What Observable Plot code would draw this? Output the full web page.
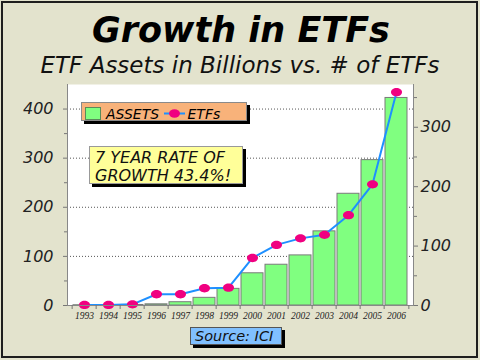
<!DOCTYPE html>
<html>
<head>
<meta charset="utf-8">
<script src="https://cdn.jsdelivr.net/npm/d3@7"></script>
<script src="https://cdn.jsdelivr.net/npm/@observablehq/plot@0.6"></script>
<style>
  html, body { margin: 0; padding: 0; background: #e3e3cd; }
  #root { position: relative; width: 480px; height: 360px; background: #e3e3cd; overflow: hidden; font-family: "DejaVu Sans", Verdana, sans-serif; }
  #root svg { position: absolute; left: 0; top: 0; }
  .abs { position: absolute; white-space: nowrap; line-height: normal; }
  .frame { position: absolute; left: 1px; top: 1px; width: 477px; height: 357px; border: 2px solid #1e1e1e; box-sizing: border-box; pointer-events: none; }
  .box { position: absolute; box-sizing: border-box; box-shadow: 3px 3px 0 #000; }
</style>
</head>
<body>
<div id="root"></div>
<script>
// ---- data ----
const years  = ["1993","1994","1995","1996","1997","1998","1999","2000","2001","2002","2003","2004","2005","2006"];
const assets = [0.5, 0.4, 1.1, 2.4, 6.7, 15.6, 33.9, 65.6, 83, 102, 151, 227.5, 296, 422.6];   // $ billions (left axis)
const etfs   = [1, 1, 2, 19, 19, 29, 30, 80, 102, 113, 119, 152, 204, 359];                      // number of ETFs (right axis)
const leftTicks  = [0, 100, 200, 300, 400];
const leftMinor  = [50, 150, 250, 350];
const rightTicks = [0, 100, 200, 300];
const rightMinor = [50, 150, 250, 350];
const leftMax = 450, rightMax = 372;

const k = leftMax / rightMax;
const data = years.map((y, i) => ({year: y, assets: assets[i], etfs: etfs[i]}));

const W = 480, H = 360, mT = 84, mB = 55, mL = 67, mR = 67;
const pIn = 0.1, pOut = 0.05;
const step = (W - mL - mR) / (years.length - pIn + 2 * pOut);

const ellipse = {
  draw(ctx, size) {
    const r = Math.sqrt(size / Math.PI);
    const rx = r * 1.15, ry = r * 0.87, c = 0.5523;
    ctx.moveTo(rx, 0);
    ctx.bezierCurveTo(rx, ry * c, rx * c, ry, 0, ry);
    ctx.bezierCurveTo(-rx * c, ry, -rx, ry * c, -rx, 0);
    ctx.bezierCurveTo(-rx, -ry * c, -rx * c, -ry, 0, -ry);
    ctx.bezierCurveTo(rx * c, -ry, rx, -ry * c, rx, 0);
    ctx.closePath();
  }
};

const axisFont = {fontFamily: "DejaVu Sans", fontStyle: "italic", fontSize: 16, fill: "#222", stroke: "#777"};

const chart = Plot.plot({
  width: W, height: H,
  marginTop: mT, marginBottom: mB, marginLeft: mL, marginRight: mR,
  style: {background: "transparent", fontFamily: "DejaVu Sans", overflow: "visible"},
  x: {type: "band", domain: years, paddingInner: pIn, paddingOuter: pOut, axis: null},
  y: {domain: [0, leftMax], axis: null},
  marks: [
    Plot.frame({fill: "white", stroke: null}),
    Plot.gridY(leftTicks.slice(1), {stroke: "#555", strokeOpacity: 1, strokeDasharray: "1,2"}),
    Plot.barY(data, {x: "year", y: "assets", fill: "#80ff80", stroke: "#7a7a7a", strokeWidth: 1}),
    Plot.line(data, {x: "year", y: d => d.etfs * k, stroke: "#1e90ff", strokeWidth: 2}),
    Plot.dot(data, {x: "year", y: d => d.etfs * k, r: 4.8, symbol: ellipse, fill: "#f00080", stroke: "none"}),
    Plot.frame({anchor: "left", stroke: "#888"}),
    Plot.frame({anchor: "right", stroke: "#888"}),
    Plot.frame({anchor: "bottom", stroke: "#888"}),
    // left axis
    Plot.axisY({anchor: "left", ticks: leftTicks, tickSize: 4, tickPadding: 10, label: null, ...axisFont}),
    Plot.axisY({anchor: "left", ticks: leftMinor, tickSize: 3, tickFormat: () => "", label: null, stroke: "#777"}),
    // right axis (ETF count)
    Plot.axisY({anchor: "right", ticks: rightTicks.map(v => v * k), tickFormat: d => String(Math.round(d / k)), tickSize: 4, tickPadding: 3, label: null, ...axisFont}),
    Plot.axisY({anchor: "right", ticks: rightMinor.map(v => v * k), tickFormat: () => "", tickSize: 3, label: null, stroke: "#777"}),
    // x axis labels + boundary ticks
    Plot.axisX({anchor: "bottom", tickSize: 0, tickPadding: 7, label: null, fontFamily: "Liberation Serif", fontStyle: "italic", fontSize: 9.5, fill: "#222"}),
    Plot.axisX({anchor: "bottom", tickSize: 4, tickFormat: () => "", label: null, stroke: "#777", dx: -step / 2}),
    Plot.axisX({anchor: "bottom", ticks: [years[years.length - 1]], tickSize: 4, tickFormat: () => "", label: null, stroke: "#777", dx: step / 2})
  ]
});

const root = document.getElementById("root");
root.appendChild(chart);

function el(html) { const t = document.createElement("template"); t.innerHTML = html.trim(); const n = t.content.firstChild; root.appendChild(n); return n; }

// titles
el(`<div class="abs" style="left:0;width:482px;text-align:center;top:${42 - 0.928*35}px;font-size:35px;font-weight:bold;font-style:italic;color:#000">Growth in ETFs</div>`);
el(`<div class="abs" style="left:0;width:480px;text-align:center;top:${73 - 0.928*23}px;font-size:23px;font-style:italic;color:#111">ETF Assets in Billions vs. # of ETFs</div>`);

// legend
el(`<div class="box" style="left:81px;top:102px;width:166px;height:19px;background:#f8b27a;border:1px solid #8a8a8a"></div>`);
el(`<div class="abs" style="left:85px;top:107px;width:16px;height:13px;box-sizing:border-box;background:#80ff80;border:1px solid #5a8a5a"></div>`);
el(`<div class="abs" style="left:106px;top:${118.7 - 0.928*14}px;font-size:14px;font-style:italic;color:#000">ASSETS</div>`);
el(`<svg class="abs" style="left:163px;top:107px" width="24" height="13"><line x1="1" y1="6.5" x2="22" y2="6.5" stroke="#1e90ff" stroke-width="2"/><ellipse cx="11.5" cy="6.5" rx="5.5" ry="4.2" fill="#f00080"/></svg>`);
el(`<div class="abs" style="left:187.5px;top:${118.7 - 0.928*14}px;font-size:14px;font-style:italic;color:#000">ETFs</div>`);

// annotation (two lines, positioned by baseline)
el(`<div class="box" style="left:89px;top:146px;width:154px;height:38px;background:#ffff99;border:1px solid #999"></div>`);
el(`<div class="abs" style="left:95px;top:${163.3 - 13}px;font-size:16px;line-height:16px;font-style:italic;color:#111">7 YEAR RATE OF</div>`);
el(`<div class="abs" style="left:95px;top:${180.6 - 13}px;font-size:16px;line-height:16px;font-style:italic;color:#111">GROWTH 43.4%!</div>`);

// source
el(`<div class="box" style="left:190px;top:327px;width:92px;height:18px;background:#80c0ff;border:1px solid #555"></div>`);
el(`<div class="abs" style="left:195px;top:${341.7 - 0.928*14.5}px;font-size:14.5px;font-style:italic;color:#111">Source: ICI</div>`);

el(`<div class="frame"></div>`);
</script>
</body>
</html>
